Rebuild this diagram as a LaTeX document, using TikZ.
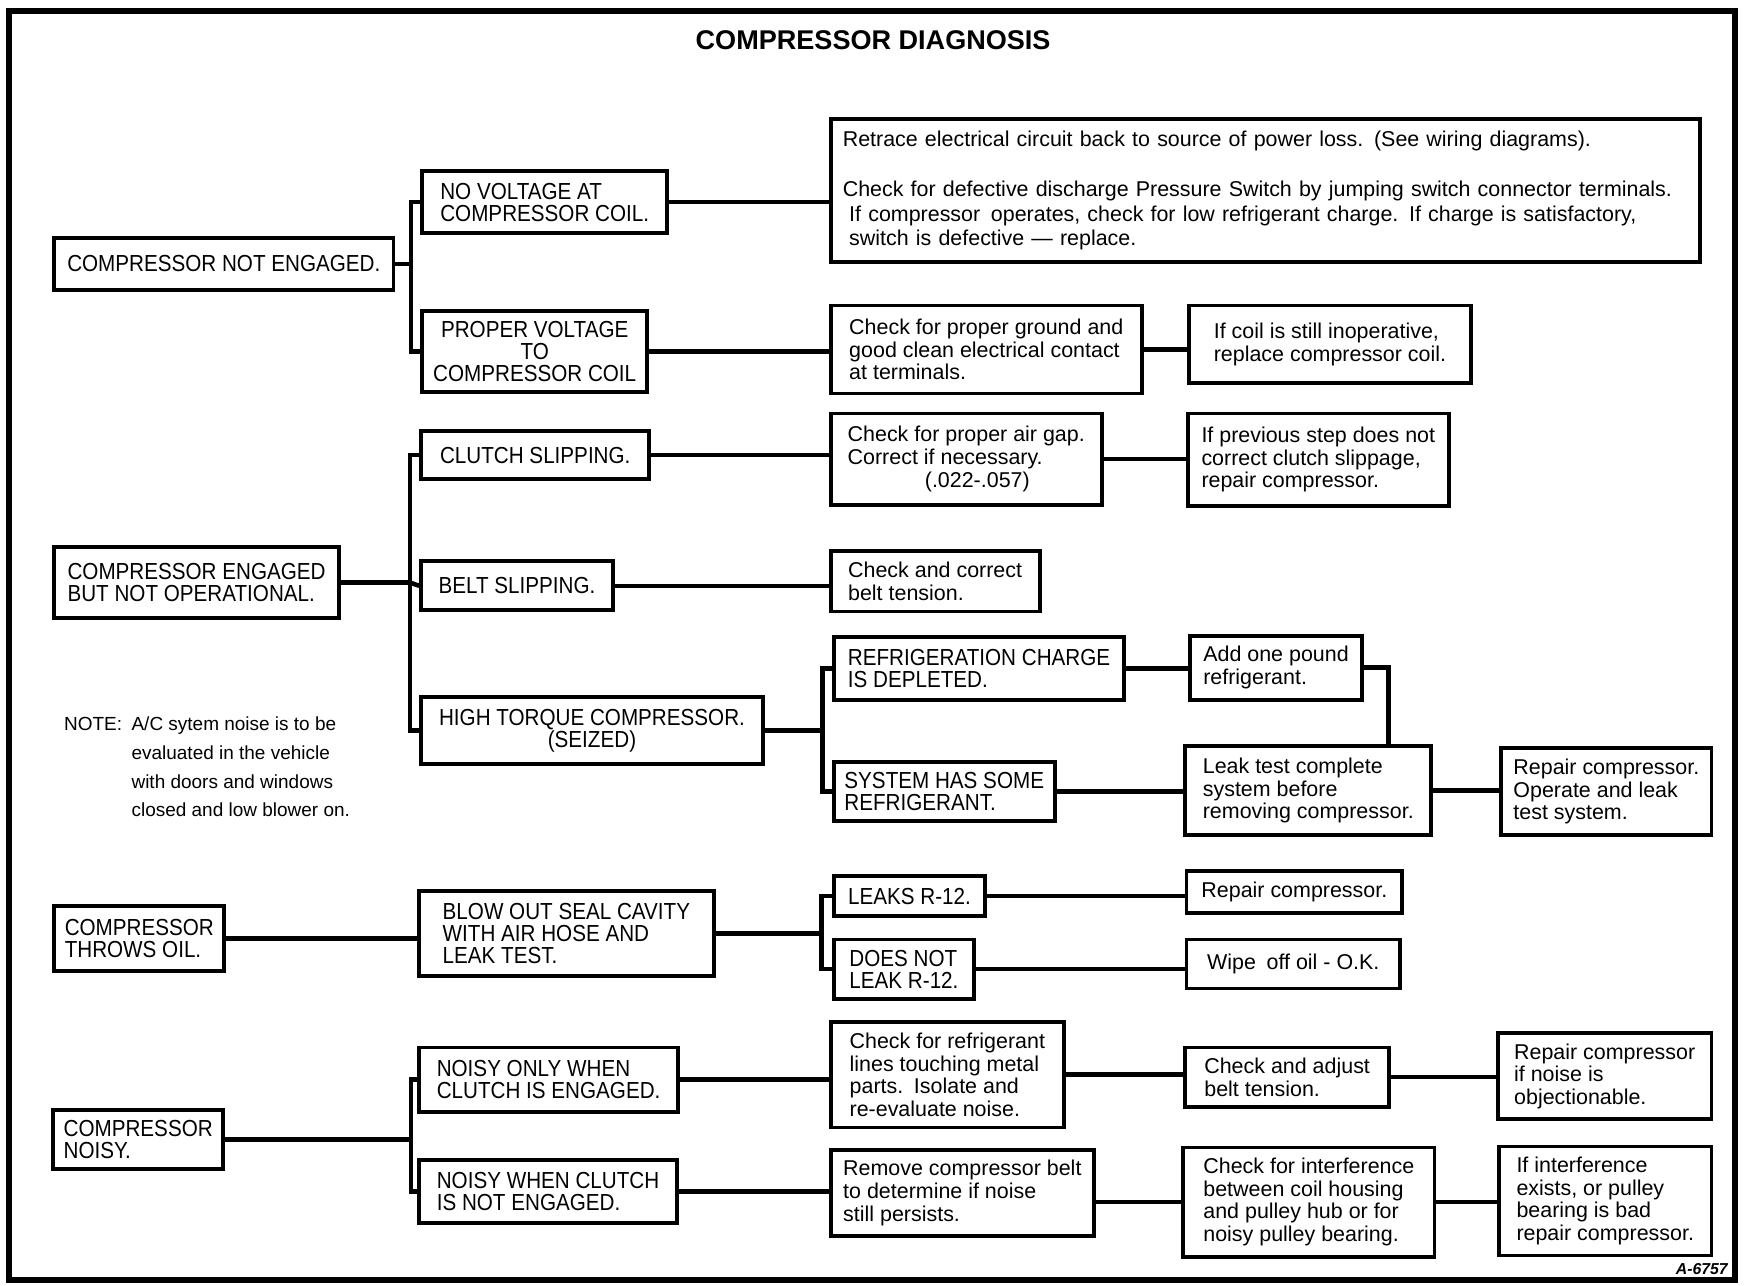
\documentclass[tikz,border=0pt]{standalone}
\usepackage{fontspec}
\setmainfont{Liberation Sans}
\newfontfamily\condfont{Liberation Sans}[FakeStretch=0.89]
\usepackage{tikz}
\usetikzlibrary{calc}
% one pixel of the sheet
\newcommand\sheetpx{0.011122cm}
\tikzset{
  % Condition box (capitals)
  capbox/.style={rectangle,draw=black,line width=1.1pt,anchor=north west,
    inner sep=3pt,align=left,
    font=\condfont\fontsize{6.6}{6.2}\selectfont},
  % Action box (lower case)
  stepbox/.style={rectangle,draw=black,line width=1.1pt,anchor=north west,
    inner sep=3pt,align=left,
    font=\fontsize{6.1}{6.45}\selectfont},
  % Box size, in sheet pixels
  wh/.style 2 args={minimum width=#1*\sheetpx,minimum height=#2*\sheetpx},
  % Connectors
  conn/.style={line width=1.3pt,color=black},
  notelbl/.style={anchor=north west,inner sep=0pt,
    font=\fontsize{5.4}{8.2}\selectfont},
}

\begin{document}
\begin{tikzpicture}[x=\sheetpx,y=-\sheetpx]
  \useasboundingbox (0,0) rectangle (1568,1156);
  \draw[line width=1.8pt] (8,10) rectangle (1560,1151);

  \node[font=\bfseries\fontsize{7.7}{9}\selectfont] (title) at (785,36)
    {COMPRESSOR DIAGNOSIS};

  % Compressor not engaged
  \node[capbox,wh={305}{47}] (a1) at (47,212) {COMPRESSOR NOT ENGAGED.};
  \node[capbox,wh={220}{56}] (b1) at (378,152)
    {NO VOLTAGE AT\\COMPRESSOR COIL.};
  \node[capbox,wh={202}{73},align=center] (b2) at (378,278)
    {PROPER VOLTAGE\\TO\\COMPRESSOR COIL};
  \node[stepbox,wh={782}{129},text width=760*\sheetpx,
    font=\fontsize{6.1}{6.9}\selectfont] (c1) at (745,105)
    {Retrace electrical circuit back to source of power loss.\enspace(See wiring diagrams).\\[7.4pt]
     Check for defective discharge Pressure Switch by jumping switch connector terminals.\\
     \hspace*{0.3em}If compressor\enspace operates, check for low refrigerant charge.\enspace If charge is satisfactory,\\
     \hspace*{0.3em}switch is defective --- replace.};
  \node[stepbox,wh={280}{79}] (c2) at (745,273)
    {Check for proper ground and\\good clean electrical contact\\at terminals.};
  \node[stepbox,wh={254}{70}] (d2) at (1067,273)
    {If coil is still inoperative,\\replace compressor coil.};

  \draw[conn] (a1.east) -- ++(14,0) coordinate (j1);
  \draw[conn] (b1.west) -| (j1) |- (b2.west);
  \draw[conn] (b1.east) -- (b1.east -| c1.west);
  \draw[conn] (b2.east) -- (b2.east -| c2.west);
  \draw[conn] (c2.east) -- (c2.east -| d2.west);

  % Compressor engaged but not operational
  \node[capbox,wh={256}{64}] (a2) at (47,490)
    {COMPRESSOR ENGAGED\\BUT NOT OPERATIONAL.};
  \node[capbox,wh={205}{43}] (b3) at (377,386) {CLUTCH SLIPPING.};
  \node[capbox,wh={172}{44}] (b4) at (377,503) {BELT SLIPPING.};
  \node[capbox,wh={307}{60},align=center] (b5) at (377,625)
    {HIGH TORQUE COMPRESSOR.\\(SEIZED)};
  \node[stepbox,wh={244}{82}] (c3) at (745,370)
    {Check for proper air gap.\\Correct if necessary.\\\hspace*{3.6em}(.022-.057)};
  \node[stepbox,wh={235}{83}] (d3) at (1066,370)
    {If previous step does not\\correct clutch slippage,\\repair compressor.};
  \node[stepbox,wh={188}{54}] (c4) at (745,494)
    {Check and correct\\belt tension.};
  \node[capbox,wh={261}{57}] (c5) at (748,571)
    {REFRIGERATION CHARGE\\IS DEPLETED.};
  \node[capbox,wh={198}{52}] (c6) at (748,683)
    {SYSTEM HAS SOME\\REFRIGERANT.};
  \node[stepbox,wh={155}{56}] (d5) at (1068,570)
    {Add one pound\\refrigerant.};
  \node[stepbox,wh={221}{80}] (d6) at (1064,669)
    {Leak test complete\\system before\\removing compressor.};
  \node[stepbox,wh={189}{78}] (e6) at (1348,671)
    {Repair compressor.\\Operate and leak\\test system.};

  \draw[conn] (a2.east) -- ++(62,0) coordinate (j2);
  \draw[conn] (b3.west) -| (j2) |- (b5.west);
  \draw[conn] (j2) -- (b4.west);
  \draw[conn] (b3.east) -- (b3.east -| c3.west);
  \draw[conn] (c3.east) -- (c3.east -| d3.west);
  \draw[conn] (b4.east) -- (b4.east -| c4.west);
  \draw[conn] (b5.east) -- ++(52,0) coordinate (j5);
  \draw[conn] (c5.west) -| (j5) |- (c6.west);
  \draw[conn] (c5.east) -- (c5.east -| d5.west);
  \draw[conn] (c6.east) -- (c6.east -| d6.west);
  \draw[conn] (d6.east) -- (d6.east -| e6.west);
  \draw[conn] (d5.east) -- ++(22,0) coordinate (j6) -- (j6 |- d6.north);

  \node[notelbl] (note) at (57,638)
    {\begin{tabular}{@{}l@{\hspace{2.7pt}}l@{}}
     NOTE: & A/C sytem noise is to be\\
           & evaluated in the vehicle\\
           & with doors and windows\\
           & closed and low blower on.
     \end{tabular}};

  % Compressor throws oil
  \node[capbox,wh={150}{58}] (a3) at (47,813) {COMPRESSOR\\THROWS OIL.};
  \node[capbox,wh={265}{77}] (b6) at (375,799)
    {BLOW OUT SEAL CAVITY\\WITH AIR HOSE AND\\LEAK TEST.};
  \node[capbox,wh={136}{36}] (c7) at (748,786) {LEAKS R-12.};
  \node[capbox,wh={126}{49}] (c8) at (748,843) {DOES NOT\\LEAK R-12.};
  \node[stepbox,wh={194}{38}] (d7) at (1065,781) {Repair compressor.};
  \node[stepbox,wh={192}{44}] (d8) at (1065,843) {Wipe\enspace off oil - O.K.};

  \draw[conn] (a3.east) -- (a3.east -| b6.west);
  \draw[conn] (b6.east) -- ++(95,0) coordinate (j3);
  \draw[conn] (c7.west) -| (j3) |- (c8.west);
  \draw[conn] (c7.east) -- (c7.east -| d7.west);
  \draw[conn] (c8.east) -- (c8.east -| d8.west);

  % Compressor noisy
  \node[capbox,wh={150}{53}] (a4) at (46,996) {COMPRESSOR\\NOISY.};
  \node[capbox,wh={233}{58}] (b7) at (375,940)
    {NOISY ONLY WHEN\\CLUTCH IS ENGAGED.};
  \node[capbox,wh={232}{57}] (b8) at (375,1041)
    {NOISY WHEN CLUTCH\\IS NOT ENGAGED.};
  \node[stepbox,wh={210}{95}] (c9) at (745,917)
    {Check for refrigerant\\lines touching metal\\parts.\enspace Isolate and\\re-evaluate noise.};
  \node[stepbox,wh={183}{53}] (d9) at (1064,940)
    {Check and adjust\\belt tension.};
  \node[stepbox,wh={192}{74}] (e9) at (1345,927)
    {Repair compressor\\if noise is\\objectionable.};
  \node[stepbox,wh={237}{75}] (c10) at (745,1032)
    {Remove compressor belt\\to determine if noise\\still persists.};
  \node[stepbox,wh={226}{97}] (d10) at (1062,1030)
    {Check for interference\\between coil housing\\and pulley hub or for\\noisy pulley bearing.};
  \node[stepbox,wh={191}{98}] (e10) at (1346,1029)
    {If interference\\exists, or pulley\\bearing is bad\\repair compressor.};

  \draw[conn] (a4.east) -- ++(167,0) coordinate (j4);
  \draw[conn] (b7.west) -| (j4) |- (b8.west);
  \draw[conn] (b7.east) -- (b7.east -| c9.west);
  \draw[conn] (c9.east) -- (c9.east -| d9.west);
  \draw[conn] (d9.east) -- (d9.east -| e9.west);
  \draw[conn] (b8.east) -- (b8.east -| c10.west);
  \draw[conn] (c10.east |- d10.west) -- (d10.west);
  \draw[conn] (d10.east) -- (d10.east -| e10.west);

  \node[font=\bfseries\itshape\fontsize{4.5}{5}\selectfont] (fig) at (1530,1141) {A-6757};
\end{tikzpicture}
\end{document}
